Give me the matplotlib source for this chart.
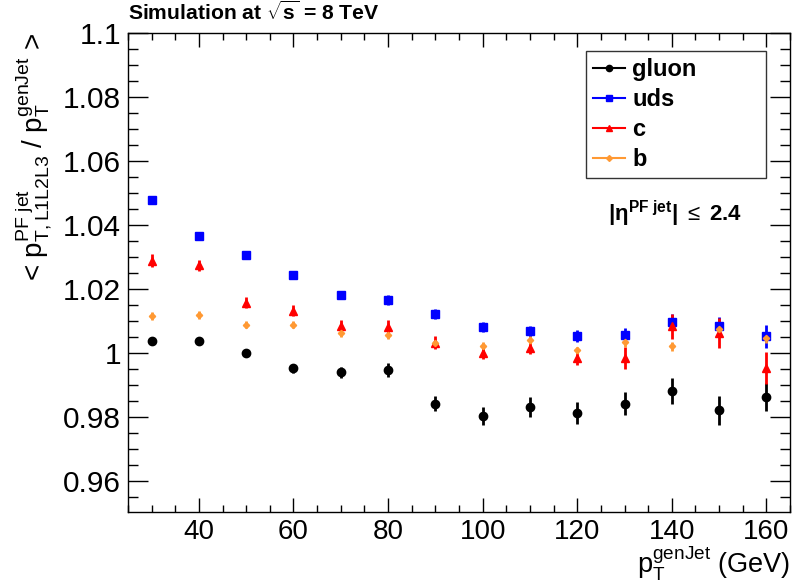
import matplotlib
matplotlib.use("Agg")
import matplotlib.pyplot as plt
from matplotlib.ticker import MultipleLocator, FixedLocator
from matplotlib.lines import Line2D

plt.rcParams['font.family'] = ['Liberation Sans', 'DejaVu Sans']
plt.rcParams['mathtext.fontset'] = 'custom'
plt.rcParams['mathtext.rm'] = 'Liberation Sans'
plt.rcParams['mathtext.it'] = 'Liberation Sans'
plt.rcParams['mathtext.bf'] = 'Liberation Sans:bold'

pt = [30, 40, 50, 60, 70, 80, 90, 100, 110, 120, 130, 140, 150, 160]

gluon = [1.0037, 1.0038, 0.9999, 0.9952, 0.9939, 0.9947, 0.9842, 0.9804, 0.9831, 0.9813, 0.9842, 0.9881, 0.9821, 0.9862]
gluon_err = [0.0008, 0.0009, 0.0011, 0.0014, 0.0017, 0.0021, 0.0023, 0.0028, 0.0030, 0.0034, 0.0037, 0.0040, 0.0046, 0.0044]

uds = [1.0477, 1.0365, 1.0305, 1.0243, 1.0181, 1.0166, 1.0121, 1.0081, 1.0068, 1.0052, 1.0056, 1.0096, 1.0083, 1.0052]
uds_err = [0.0005, 0.0006, 0.0007, 0.0009, 0.0012, 0.0015, 0.0016, 0.0016, 0.0017, 0.0019, 0.0021, 0.0025, 0.0030, 0.0036]

c = [1.0288, 1.0274, 1.0157, 1.0132, 1.0084, 1.0082, 1.0032, 1.0001, 1.0017, 0.9983, 0.9985, 1.0084, 1.0063, 0.9954]
c_err = [0.0020, 0.0018, 0.0018, 0.0018, 0.0019, 0.0020, 0.0021, 0.0019, 0.0021, 0.0022, 0.0034, 0.0039, 0.0046, 0.0050]

b = [1.0116, 1.0118, 1.0088, 1.0088, 1.0062, 1.0056, 1.0030, 1.0022, 1.0040, 1.0008, 1.0033, 1.0021, 1.0075, 1.0047]
b_err = [0.0013, 0.0012, 0.0011, 0.0011, 0.0011, 0.0011, 0.0011, 0.0011, 0.0012, 0.0012, 0.0013, 0.0014, 0.0015, 0.0016]

series = [
    ("gluon", gluon, gluon_err, "black", "o", 6.0),
    ("uds", uds, uds_err, "#0000ff", "s", 6.0),
    ("c", c, c_err, "#ff0000", "^", 6.0),
    ("b", b, b_err, "#ff9933", "D", 3.2),
]

fig = plt.figure(figsize=(7.92, 5.88), dpi=100)
ax = fig.add_axes([0.1616, 0.1293, 0.8359, 0.8146])

for name, vals, errs, col, mk, ms in series:
    ax.errorbar(pt, vals, yerr=errs, fmt=mk, color=col, ms=ms, mec=col, mfc=col,
                elinewidth=2.0, capsize=0, label=name)

ax.set_xlim(25, 165)
ax.set_ylim(0.9503, 1.1)
ax.xaxis.set_major_locator(MultipleLocator(20))
ax.xaxis.set_minor_locator(MultipleLocator(5))
ax.yaxis.set_major_locator(FixedLocator([0.96, 0.98, 1.0, 1.02, 1.04, 1.06, 1.08, 1.1]))
ax.yaxis.set_minor_locator(MultipleLocator(0.005))
ax.set_yticklabels(["0.96", "0.98", "1", "1.02", "1.04", "1.06", "1.08", "1.1"])

ax.tick_params(which='both', direction='in', top=True, right=True, width=1.0)
ax.tick_params(axis='y', which='major', length=14.4, pad=5, labelsize=21.5)
ax.tick_params(axis='y', which='minor', length=7.2)
ax.tick_params(axis='x', which='major', length=10, pad=5, labelsize=20)
ax.tick_params(axis='x', which='minor', length=5)
for s in ax.spines.values():
    s.set_linewidth(1.0)

ax.set_xlabel(r"$\mathregular{p_T^{genJet}}$ (GeV)", fontsize=19.5, loc='right', labelpad=0)
ax.set_ylabel(r"< $\mathregular{p_{T,L1L2L3}^{PF\ jet}}$ / $\mathregular{p_T^{genJet}}$ >", fontsize=20, loc='top', labelpad=6)

fig.text(0.1616, 1 - 20.0 / 588, r"Simulation at $\sqrt{\mathregular{s}}$ = 8 TeV", fontsize=15.2, fontweight='bold', ha='left', va='baseline')

handles = [Line2D([0], [0], color=col, marker=mk, ms=(4.5 if mk != 'D' else 3.0), lw=1.5, mec=col, mfc=col)
           for name, vals, errs, col, mk, ms in series]
leg = ax.legend(handles, [s[0] for s in series], loc='upper left', bbox_to_anchor=(0.692, 0.9626, 0.272, 0.0),
                mode='expand', prop={'weight': 'bold', 'size': 17}, frameon=True, fancybox=False,
                edgecolor='black', handlelength=1.35, handletextpad=0.3, borderpad=0.3,
                labelspacing=0.3, borderaxespad=0.0)
leg.get_frame().set_linewidth(1.0)

ax.text(0.725, 0.622, r"|$\mathregular{\eta^{PF\ jet}}$| $\leq$ 2.4", transform=ax.transAxes,
        fontsize=16, fontweight='bold', ha='left', va='center')

fig.savefig("out.png", dpi=100)
